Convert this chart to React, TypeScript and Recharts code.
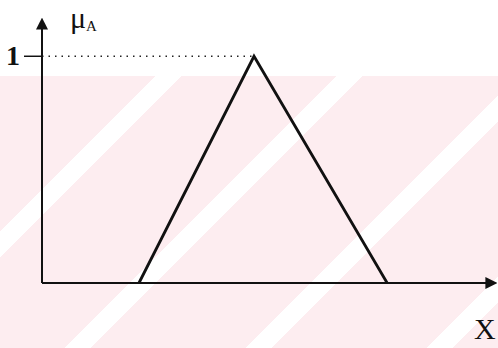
import React from 'react'
import { LineChart, Line, XAxis, YAxis, ReferenceLine } from 'recharts'

// triangular membership function μA(x)
const xPoints = [21.4, 46.8, 76.2]
const muValues = [0, 1, 0]
const yTicks = [1]
const peakX = 46.8

const data = xPoints.map((x, i) => ({ x, mu: muValues[i] }))

const SERIF = '"Liberation Serif", "DejaVu Serif", serif'

function OneTick(props: any) {
  const { x, y, payload } = props
  return (
    <text x={x - 2} y={y + 9} textAnchor="end" fontFamily={SERIF} fontWeight="bold" fontSize={28} fill="#111">
      {payload.value}
    </text>
  )
}

export default function App() {
  return (
    <div style={{ position: 'absolute', left: 0, top: 0, width: 498, height: 348, background: '#fff', overflow: 'hidden' }}>
      {/* faint diagonal backdrop */}
      <div
        style={{
          position: 'absolute',
          left: 0,
          top: 76,
          width: 498,
          height: 272,
          background:
            'repeating-linear-gradient(135deg, #fdedf0 0px, #fdedf0 110px, #ffffff 110px, #ffffff 128px)',
        }}
      />
      <svg width={0} height={0} style={{ position: 'absolute' }}>
        <defs>
          <marker id="arrowHead" viewBox="0 0 10 10" refX="8" refY="5" markerWidth="6" markerHeight="6" orient="auto-start-reverse">
            <path d="M0,0 L10,5 L0,10 z" fill="#111" />
          </marker>
        </defs>
      </svg>
      <div style={{ position: 'absolute', left: 0, top: 0 }}>
        <LineChart width={498} height={348} data={data} margin={{ top: 20, right: 3, bottom: 35, left: 0 }}>
          <XAxis
            type="number"
            dataKey="x"
            domain={[0, 100]}
            height={30}
            tick={false}
            tickLine={false}
            axisLine={{ stroke: '#111', strokeWidth: 2, markerEnd: 'url(#arrowHead)' } as any}
          />
          <YAxis
            type="number"
            domain={[0, 1.16]}
            ticks={yTicks}
            width={42}
            tickSize={18}
            tickLine={{ stroke: '#111', strokeWidth: 1.5 }}
            tick={<OneTick />}
            axisLine={{ stroke: '#111', strokeWidth: 2, markerStart: 'url(#arrowHead)' } as any}
          />
          <ReferenceLine
            segment={[{ x: 0, y: 1 }, { x: peakX, y: 1 }]}
            stroke="#222"
            strokeWidth={1.5}
            strokeDasharray="1.5 5"
          />
          <Line
            type="linear"
            dataKey="mu"
            stroke="#111"
            strokeWidth={2.8}
            dot={false}
            isAnimationActive={false}
          />
        </LineChart>
      </div>
      <div style={{ position: 'absolute', left: 70, top: 2, lineHeight: '32px', fontFamily: SERIF, fontSize: 30, color: '#111' }}>
        μ<span style={{ fontSize: 15, position: 'relative', top: 3 }}>A</span>
      </div>
      <div style={{ position: 'absolute', left: 474, top: 312, lineHeight: '34px', fontFamily: SERIF, fontSize: 30, color: '#111' }}>
        X
      </div>
    </div>
  )
}
